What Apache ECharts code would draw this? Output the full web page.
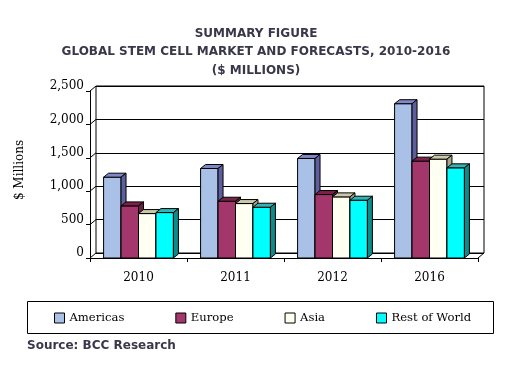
<!DOCTYPE html>
<html>
<head>
<meta charset="utf-8">
<script src="https://cdn.jsdelivr.net/npm/echarts@6/dist/echarts.min.js"></script>
<style>html,body{margin:0;padding:0;background:#fff;}#c{width:507px;height:366px;}</style>
</head>
<body>
<div id="c"></div>
<script>
const categories = ['2010', '2011', '2012', '2016'];
const americas = [1210, 1340, 1490, 2310];
const europe = [780, 850, 950, 1450];
const asia = [665, 815, 915, 1480];
const restOfWorld = [680, 760, 865, 1350];
const yTicks = [0, 500, 1000, 1500, 2000, 2500];
const seriesNames = ['Americas', 'Europe', 'Asia', 'Rest of World'];

const palette = [
  { front: '#a9c1e6', top: '#8086c6', side: '#5c5e9e' },
  { front: '#a3366b', top: '#7c2148', side: '#68203f' },
  { front: '#fffff2', top: '#cacaa8', side: '#a6a68a' },
  { front: '#00ffff', top: '#30b4b4', side: '#0d8a8a' }
];

const DX = 5, DY = 4;
function barSeries(idx, values) {
  const c = palette[idx];
  return {
    type: 'custom',
    name: seriesNames[idx],
    xAxisIndex: 0, yAxisIndex: 0,
    data: values.map((v, i) => [i, v]),
    encode: { x: 0, y: 1 },
    itemStyle: { color: c.front, borderColor: '#000', borderWidth: 1 },
    renderItem: function (params, api) {
      const ci = api.value(0), v = api.value(1);
      const pt = api.coord([ci, v]);
      const b = api.coord([ci, 0]);
      const cw = api.size([1, 0])[0];
      const bw = cw * 0.18;
      const x0 = pt[0] - 2 * bw + idx * bw;
      const x1 = x0 + bw;
      const yt = pt[1], yb = b[1];
      const st = (f) => ({ fill: f, stroke: '#000', lineWidth: 1 });
      return {
        type: 'group',
        children: [
          { type: 'polygon', shape: { points: [[x0, yb], [x0, yt], [x1, yt], [x1, yb]] }, style: st(c.front) },
          { type: 'polygon', shape: { points: [[x0, yt], [x0 + DX, yt - DY], [x1 + DX, yt - DY], [x1, yt]] }, style: st(c.top) },
          { type: 'polygon', shape: { points: [[x1, yt], [x1 + DX, yt - DY], [x1 + DX, yb - DY], [x1, yb]] }, style: st(c.side) }
        ]
      };
    }
  };
}

// wall connector lines (left wall tick diagonals and floor corners)
const wallSeries = {
  type: 'custom',
  name: 'walls',
  xAxisIndex: 1, yAxisIndex: 1,
  silent: true,
  data: yTicks.map(t => [0, t]),
  encode: { x: 0, y: 1 },
  renderItem: function (params, api) {
    const t = api.value(1);
    const p = api.coord([0, t]);
    const cw = api.size([1, 0])[0];
    const left = p[0] - cw / 2;
    const children = [
      { type: 'line', shape: { x1: left, y1: p[1], x2: left - 6, y2: p[1] + 5 }, style: { stroke: '#000', lineWidth: 1 } }
    ];
    if (t === 0) {
      const right = api.coord([categories.length - 1, 0])[0] + cw / 2;
      children.push({ type: 'line', shape: { x1: right, y1: p[1], x2: right - 6, y2: p[1] + 5 }, style: { stroke: '#000', lineWidth: 1 } });
    }
    return { type: 'group', children: children };
  }
};

const chart = echarts.init(document.getElementById('c'), null, { renderer: 'canvas' });
const serif = 'DejaVu Serif';
const titleColor = '#38384a';

chart.setOption({
  animation: false,
  backgroundColor: '#fff',
  grid: [
    { left: 90, top: 91, width: 388, height: 167 },
    { left: 96, top: 86, width: 388, height: 167, show: true, borderColor: '#000', borderWidth: 1, backgroundColor: 'transparent' }
  ],
  xAxis: [
    {
      type: 'category', gridIndex: 0, data: categories,
      axisLine: { show: true, lineStyle: { color: '#000', width: 1 } },
      axisTick: { show: true, length: 4, lineStyle: { color: '#000' } },
      axisLabel: { color: '#000', fontFamily: serif, fontSize: 12, margin: 14 }
    },
    {
      type: 'category', gridIndex: 1, data: categories,
      axisLine: { show: false }, axisTick: { show: false }, axisLabel: { show: false }
    }
  ],
  yAxis: [
    {
      type: 'value', gridIndex: 0, min: 0, max: 2500, interval: 500,
      axisLine: { show: true, lineStyle: { color: '#000', width: 1 } },
      axisTick: { show: true, length: 4, lineStyle: { color: '#000' } },
      axisLabel: { show: false },
      splitLine: { show: false }
    },
    {
      type: 'value', gridIndex: 1, min: 0, max: 2500, interval: 500,
      axisLine: { show: false }, axisTick: { show: false },
      axisLabel: {
        color: '#000', fontFamily: serif, fontSize: 12, margin: 12,
        formatter: (v) => v.toLocaleString('en-US')
      },
      splitLine: { show: true, lineStyle: { color: '#000', width: 1 } }
    }
  ],
  legend: {
    data: seriesNames,
    left: 54, top: 312, padding: 0,
    itemWidth: 10, itemHeight: 10, itemGap: 51,
    icon: 'rect',
    itemStyle: { borderColor: '#000', borderWidth: 1 },
    textStyle: { color: '#000', fontFamily: serif, fontSize: 11.6 }
  },
  graphic: [
    { type: 'text', x: 256, y: 34, style: { text: 'SUMMARY FIGURE', align: 'center', verticalAlign: 'middle', fontFamily: 'DejaVu Sans', fontWeight: 'bold', fontSize: 12, fill: titleColor } },
    { type: 'text', x: 256, y: 52, style: { text: 'GLOBAL STEM CELL MARKET AND FORECASTS, 2010-2016', align: 'center', verticalAlign: 'middle', fontFamily: 'DejaVu Sans', fontWeight: 'bold', fontSize: 12, fill: titleColor } },
    { type: 'text', x: 256, y: 71, style: { text: '($ MILLIONS)', align: 'center', verticalAlign: 'middle', fontFamily: 'DejaVu Sans', fontWeight: 'bold', fontSize: 12, fill: titleColor } },
    { type: 'text', x: 20, y: 170, rotation: Math.PI / 2, style: { text: '$ Millions', align: 'center', verticalAlign: 'middle', fontFamily: serif, fontSize: 12, fill: '#000' } },
    { type: 'rect', shape: { x: 27.5, y: 301.5, width: 466, height: 32 }, style: { fill: 'none', stroke: '#000', lineWidth: 1 }, z: 0 },
    { type: 'text', x: 27, y: 346, style: { text: 'Source: BCC Research', align: 'left', verticalAlign: 'middle', fontFamily: 'DejaVu Sans', fontWeight: 'bold', fontSize: 12, fill: titleColor } }
  ],
  series: [
    wallSeries,
    barSeries(0, americas),
    barSeries(1, europe),
    barSeries(2, asia),
    barSeries(3, restOfWorld)
  ]
});
</script>
</body>
</html>
